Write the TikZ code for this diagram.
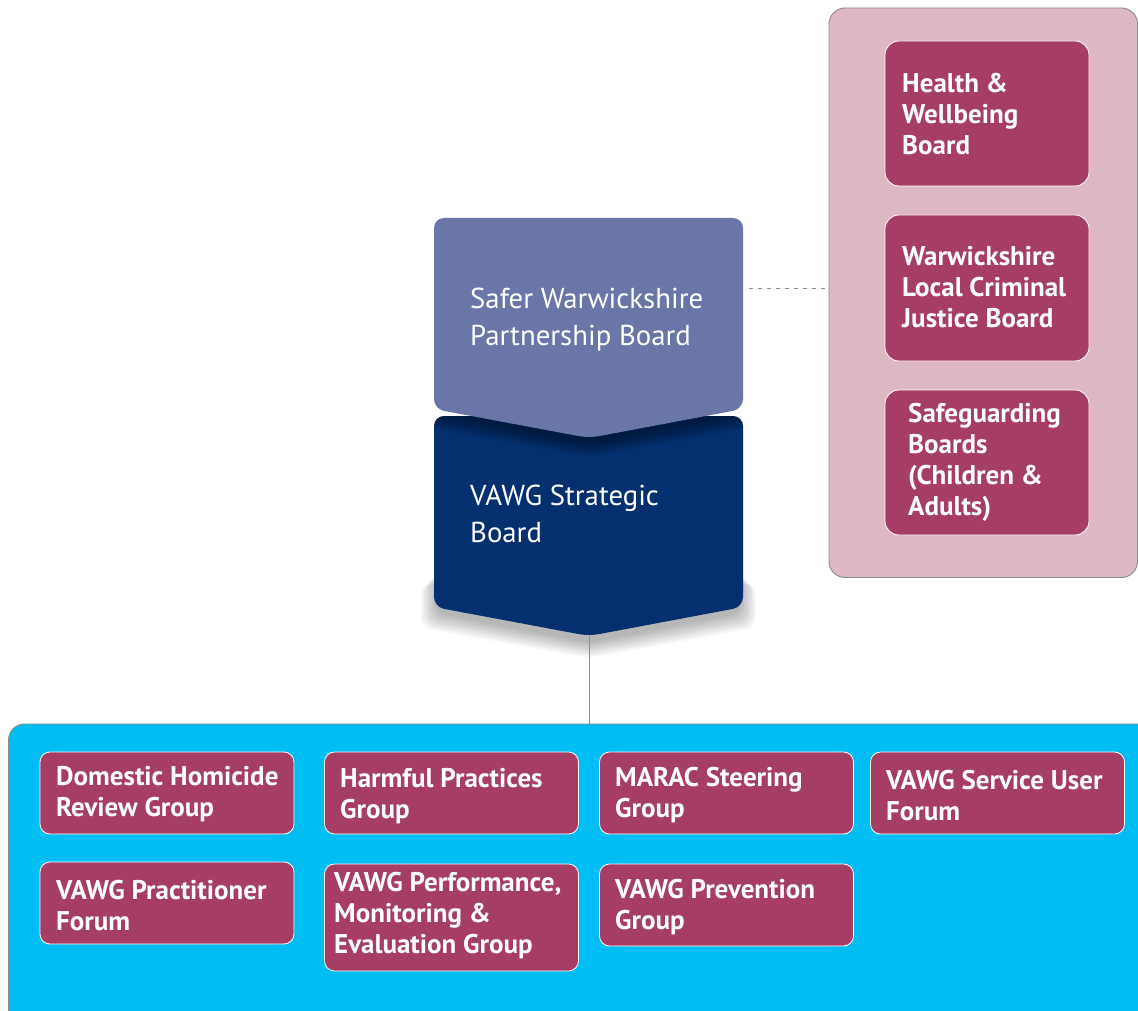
\documentclass[tikz,border=0pt]{standalone}
\usepackage{fontspec}
\setmainfont{PT Sans}
\definecolor{pinkbg}{HTML}{DDB8C2}
\definecolor{plum}{HTML}{A63D66}
\definecolor{slate}{HTML}{6A76A7}
\definecolor{navy}{HTML}{05306F}
\definecolor{sky}{HTML}{00BDF2}
\definecolor{edge}{HTML}{8C8C8C}
\begin{document}
\begin{tikzpicture}[x=1pt,y=-1pt,
  outerbox/.style={draw=edge, line width=0.9pt, rounded corners=16pt, inner sep=0pt},
  pbox/.style={draw=white, line width=0.8pt, fill=plum, rounded corners=10pt, inner sep=0pt, minimum width=254pt},
  sbox/.style={draw=white, line width=0.8pt, fill=plum, rounded corners=14pt, inner sep=0pt, minimum width=204pt},
  ptext/.style={anchor=west, inner sep=0pt, align=left, text=white, font=\bfseries\fontsize{27}{31}\selectfont},
  ctext/.style={anchor=west, inner sep=0pt, align=left, text=white, font=\fontsize{28.8}{37}\selectfont},
  chevron/.style={rounded corners=10pt},
  link/.style={draw=edge, line width=0.8pt}
]
\clip (0,0) rectangle (1138,1011);
\fill[white] (0,0) rectangle (1138,1011);

% related boards panel
\node[outerbox, fill=pinkbg, minimum width=308.5pt, minimum height=569.5pt] (related) at (983.25,292.75) {};
\node[sbox, minimum height=145pt] (hwb) at (987,113.5) {};
\node[ptext] (hwbT) at (902,114) {Health \&\\Wellbeing\\Board};
\node[sbox, minimum height=146pt] (lcjb) at (987,288) {};
\node[ptext] (lcjbT) at (902,287) {Warwickshire\\Local Criminal\\Justice Board};
\node[sbox, minimum height=145pt] (sgb) at (987,462.5) {};
\node[ptext] (sgbT) at (908,462) {Safeguarding\\Boards\\(Children \&\\Adults)};

% groups panel
\node[outerbox, fill=sky, minimum width=1151.5pt, minimum height=320pt] (groups) at (584.25,884) {};

% soft shadow below the lower chevron
\foreach \e in {0,1.5,...,15} {
  \fill[black, opacity=0.028, chevron] (436-\e,570+\e) -- (741+\e,570+\e) -- (741+\e,613+\e) -- (589,643+\e) -- (436-\e,613+\e) -- cycle;
}
\fill[navy, chevron] (434,416) -- (743,416) -- (743,607) -- (589,636) -- (434,607) -- cycle;
\coordinate (vawgtip) at (589,636);
% shadow of the upper chevron falling on the lower one
\begin{scope}
  \clip[chevron] (434,416) -- (743,416) -- (743,607) -- (589,636) -- (434,607) -- cycle;
  \foreach \e in {0,1.6,...,14} {
    \fill[black, opacity=0.05, chevron] (434-\e,240) -- (743+\e,240) -- (743+\e,414+\e) -- (589,444+\e) -- (434-\e,414+\e) -- cycle;
  }
\end{scope}
\fill[slate, chevron] (434,218) -- (743,218) -- (743,409) -- (589,438) -- (434,409) -- cycle;
\coordinate (swpright) at (749,288);
\node[ctext] (swp) at (470,320) {Safer Warwickshire\\Partnership Board};
\node[ctext] (vawg) at (470,514) {VAWG Strategic\\Board};

% connectors
\draw[link] (vawgtip) -- (vawgtip |- groups.north);
\draw[link, dash pattern=on 4pt off 5pt] (swpright) -- (swpright -| related.west);

% group boxes
\node[pbox, minimum height=82pt] (dhr) at (167,793) {};
\node[ptext] (dhrT) at (56,794) {Domestic Homicide\\Review Group};
\node[pbox, minimum height=82pt] (hpg) at (451.5,793) {};
\node[ptext] (hpgT) at (340,796) {Harmful Practices\\Group};
\node[pbox, minimum height=82pt] (marac) at (726.5,793) {};
\node[ptext] (maracT) at (615,795) {MARAC Steering\\Group};
\node[pbox, minimum height=82pt] (suf) at (997.5,793) {};
\node[ptext] (sufT) at (886,796) {VAWG Service User\\Forum};
\node[pbox, minimum height=82pt] (vpf) at (167,903) {};
\node[ptext] (vpfT) at (56,906) {VAWG Practitioner\\Forum};
\node[pbox, minimum height=107pt] (pme) at (451.5,917.5) {};
\node[ptext] (pmeT) at (334,916) {VAWG Performance,\\Monitoring \&\\Evaluation Group};
\node[pbox, minimum height=82pt] (vpg) at (726.5,905) {};
\node[ptext] (vpgT) at (615,907) {VAWG Prevention\\Group};
\end{tikzpicture}
\end{document}
